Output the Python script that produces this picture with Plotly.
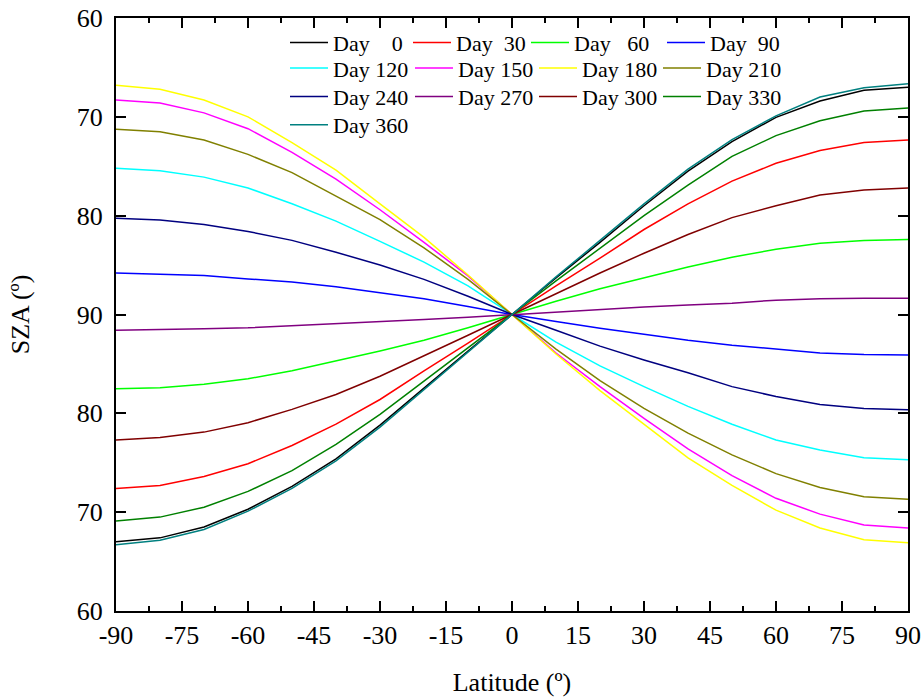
import plotly.graph_objects as go

# ---------------- data ----------------
latitude = [-90, -80, -70, -60, -50, -40, -30, -20, -10, 0,
            10, 20, 30, 40, 50, 60, 70, 80, 90]

day_labels = ["Day\u00a0\u00a0\u00a0\u00a00", "Day\u00a0\u00a030", "Day\u00a0\u00a0\u00a060",
              "Day\u00a0\u00a090", "Day 120", "Day 150", "Day 180", "Day 210",
              "Day 240", "Day 270", "Day 300", "Day 330", "Day 360"]

# y values on an unfolded 60..120 scale (values >90 are shown mirrored as 90..60)
sza_day0 = [113.0, 112.6, 111.5, 109.7, 107.4, 104.6, 101.2, 97.4, 93.7, 90.0,
            86.3, 82.7, 79.0, 75.5, 72.5, 70.05, 68.4, 67.3, 67.0]
sza_day30 = [107.6, 107.3, 106.4, 105.1, 103.25, 101.1, 98.6, 95.7, 92.9, 90.0,
             87.1, 84.3, 81.4, 78.8, 76.5, 74.7, 73.4, 72.6, 72.35]
sza_day60 = [97.5, 97.4, 97.05, 96.5, 95.7, 94.7, 93.7, 92.6, 91.35, 90.0,
             88.65, 87.4, 86.3, 85.2, 84.2, 83.4, 82.8, 82.5, 82.4]
sza_day90 = [85.8, 85.9, 86.05, 86.4, 86.7, 87.2, 87.8, 88.4, 89.2, 90.0,
             90.7, 91.4, 92.0, 92.6, 93.1, 93.5, 93.9, 94.05, 94.1]
sza_day120 = [75.2, 75.45, 76.1, 77.2, 78.8, 80.55, 82.6, 84.7, 87.1, 90.0,
              92.8, 95.2, 97.3, 99.3, 101.1, 102.7, 103.7, 104.5, 104.7]
sza_day150 = [68.3, 68.6, 69.6, 71.2, 73.6, 76.3, 79.4, 82.7, 86.1, 90.0,
              93.9, 97.3, 100.5, 103.6, 106.3, 108.6, 110.2, 111.3, 111.6]
sza_day180 = [66.8, 67.2, 68.3, 70.0, 72.6, 75.4, 78.8, 82.2, 86.0, 90.0,
              94.0, 97.7, 101.1, 104.5, 107.3, 109.8, 111.6, 112.8, 113.1]
sza_day210 = [71.25, 71.5, 72.35, 73.8, 75.65, 78.0, 80.4, 83.25, 86.45, 90.0,
              93.5, 96.7, 99.5, 102.0, 104.2, 106.1, 107.5, 108.45, 108.7]
sza_day240 = [80.25, 80.45, 80.9, 81.6, 82.5, 83.7, 85.0, 86.45, 88.15, 90.0,
              91.6, 93.2, 94.6, 95.9, 97.3, 98.3, 99.1, 99.5, 99.65]
sza_day270 = [91.6, 91.55, 91.45, 91.35, 91.15, 90.95, 90.75, 90.5, 90.27, 90.0,
              89.75, 89.5, 89.25, 89.05, 88.85, 88.55, 88.4, 88.35, 88.35]
sza_day300 = [102.7, 102.45, 101.9, 100.95, 99.6, 98.1, 96.25, 94.2, 92.1, 90.0,
              87.9, 85.8, 83.8, 81.9, 80.2, 79.0, 77.9, 77.4, 77.2]
sza_day330 = [110.9, 110.5, 109.5, 107.9, 105.8, 103.15, 100.1, 96.75, 93.4, 90.0,
              86.6, 83.3, 80.0, 76.9, 74.0, 71.9, 70.4, 69.4, 69.1]
sza_day360 = [113.3, 112.85, 111.75, 109.9, 107.6, 104.8, 101.4, 97.6, 93.8, 90.0,
              86.2, 82.5, 78.8, 75.3, 72.3, 69.9, 68.0, 67.05, 66.65]

x_tick_vals = [-90, -75, -60, -45, -30, -15, 0, 15, 30, 45, 60, 75, 90]
x_tick_text = ["-90", "-75", "-60", "-45", "-30", "-15", "0", "15", "30",
               "45", "60", "75", "90"]
y_tick_vals = [60, 70, 80, 90, 100, 110, 120]
y_tick_text = ["60", "70", "80", "90", "80", "70", "60"]

# ---------------- styling ----------------
series = [sza_day0, sza_day30, sza_day60, sza_day90, sza_day120, sza_day150,
          sza_day180, sza_day210, sza_day240, sza_day270, sza_day300,
          sza_day330, sza_day360]
colors = ["#000000", "#FF0000", "#00FF00", "#0000FF", "#00FFFF", "#FF00FF",
          "#FFFF00", "#808000", "#000080", "#800080", "#800000", "#008000",
          "#008080"]
# legend entry anchor (pixel x of line start, pixel y of row centre)
legend_px = [(290, 42.7), (413, 42.7), (531, 42.7), (667, 42.7),
             (290, 68.3), (415, 68.3), (539, 68.3), (663, 68.3),
             (290, 96.7), (415, 96.7), (539, 96.7), (663, 96.7),
             (290, 125.0)]

W, H = 924, 697
ML, MR, MT, MB = 116, 16, 18, 86
PW, PH = W - ML - MR, H - MT - MB
FONT = "Liberation Serif, Times New Roman, serif"

fig = go.Figure()
layout_legends = {}
for i, (vals, name, col) in enumerate(zip(series, day_labels, colors)):
    lid = "legend" if i == 0 else f"legend{i + 1}"
    fig.add_trace(go.Scatter(x=latitude, y=vals, mode="lines", name=name,
                             line=dict(color=col, width=1.5), legend=lid))
    px, py = legend_px[i]
    layout_legends[lid] = dict(
        x=(px - 5 - ML) / PW, y=1 - (py - MT) / PH,
        xanchor="left", yanchor="middle",
        bgcolor="rgba(0,0,0,0)", borderwidth=0,
        font=dict(family=FONT, size=22, color="black"),
        itemwidth=38, tracegroupgap=0,
    )

fig.update_layout(
    width=W, height=H,
    margin=dict(l=ML, r=MR, t=MT, b=MB, pad=0),
    paper_bgcolor="white", plot_bgcolor="white",
    font=dict(family=FONT, size=26, color="black"),
    showlegend=True,
    **layout_legends,
)

fig.update_xaxes(
    range=[-90, 90], tickvals=x_tick_vals, ticktext=x_tick_text,
    ticks="inside", ticklen=10, tickwidth=2, tickcolor="black",
    minor=dict(dtick=7.5, tick0=-90, ticks="inside", ticklen=5, tickwidth=2,
               tickcolor="black"),
    showline=True, linewidth=2, linecolor="black", mirror="ticks",
    showgrid=False, zeroline=False, automargin=False,
    tickfont=dict(family=FONT, size=26, color="black"),
    ticklabelstandoff=0,
    title=dict(text="Latitude (º)", font=dict(family=FONT, size=26, color="black"),
               standoff=34),
)
fig.update_yaxes(
    range=[120, 60], tickvals=y_tick_vals, ticktext=y_tick_text,
    ticks="inside", ticklen=10, tickwidth=2, tickcolor="black",
    showline=True, linewidth=2, linecolor="black", mirror="ticks",
    showgrid=False, zeroline=False, automargin=False,
    tickfont=dict(family=FONT, size=26, color="black"),
    ticklabelstandoff=6,
    title=dict(text="SZA (º)", font=dict(family=FONT, size=26, color="black"),
               standoff=40),
)

fig.write_html("out.html")
